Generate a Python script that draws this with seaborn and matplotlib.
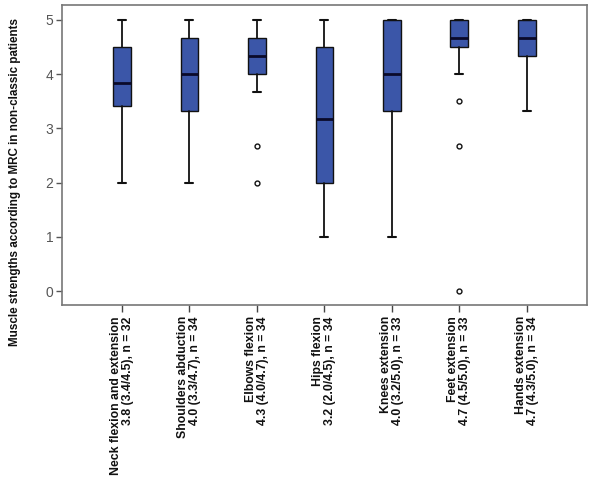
import matplotlib
matplotlib.use("Agg")
import matplotlib.pyplot as plt
import seaborn as sns

# Summary statistics (median, quartiles, whiskers, outliers)
muscles = ["Neck flexion and extension", "Shoulders abduction", "Elbows flexion",
           "Hips flexion", "Knees extension", "Feet extension", "Hands extension"]
summary = ["3.8 (3.4/4.5), n = 32", "4.0 (3.3/4.7), n = 34", "4.3 (4.0/4.7), n = 34",
           "3.2 (2.0/4.5), n = 34", "4.0 (3.2/5.0), n = 33", "4.7 (4.5/5.0), n = 33",
           "4.7 (4.3/5.0), n = 34"]
medians = [3.83, 4.0, 4.33, 3.17, 4.0, 4.67, 4.67]
q1 = [3.42, 3.33, 4.0, 2.0, 3.33, 4.5, 4.33]
q3 = [4.5, 4.67, 4.67, 4.5, 5.0, 5.0, 5.0]
whisk_lo = [2.0, 2.0, 3.67, 1.0, 1.0, 4.0, 3.33]
whisk_hi = [5.0, 5.0, 5.0, 5.0, 5.0, 5.0, 5.0]
outliers = [[], [], [2.67, 2.0], [], [], [3.5, 2.67, 0.0], []]

sns.set_theme(style="white")
plt.rcParams["font.family"] = ["Liberation Sans", "DejaVu Sans"]

fig = plt.figure(figsize=(6.0, 4.82), dpi=100)
ax = fig.add_axes([0.103, 0.367, 0.875, 0.623])

stats = []
for i in range(len(muscles)):
    stats.append({
        "med": medians[i], "q1": q1[i], "q3": q3[i],
        "whislo": whisk_lo[i], "whishi": whisk_hi[i],
        "fliers": outliers[i], "label": muscles[i] + "\n" + summary[i],
    })

ax.bxp(stats, positions=range(len(muscles)), widths=0.26, patch_artist=True,
       boxprops=dict(facecolor="#3b56a8", edgecolor="#111111", linewidth=1.0),
       medianprops=dict(color="#0a0a2a", linewidth=2.0),
       whiskerprops=dict(color="#111111", linewidth=1.3),
       capprops=dict(color="#111111", linewidth=1.5),
       capwidths=0.12,
       flierprops=dict(marker="o", markersize=3.5, markerfacecolor="white",
                       markeredgecolor="#111111", markeredgewidth=1.0))

ax.set_xlim(-0.89, 6.89)
ax.set_ylim(-0.26, 5.28)
ax.set_yticks([0, 1, 2, 3, 4, 5])
ax.set_xticks(range(len(muscles)))
ax.set_xticklabels([m + "\n" + s for m, s in zip(muscles, summary)],
                   rotation=90, fontsize=8.8, fontweight="bold", color="#111111",
                   ha="center", va="top", multialignment="right", linespacing=1.0)
ax.tick_params(axis="y", labelsize=10, colors="#555555", length=4, width=1,
               direction="out", left=True, pad=2)
ax.tick_params(axis="x", length=5, width=1, direction="out", bottom=True,
               color="#444444", pad=3)
for side in ax.spines.values():
    side.set_color("#777777")
    side.set_linewidth(1.2)

# y label sits a bit lower than the axes centre in the reference
fig.text(15 / 600, 1 - 182 / 482,
         "Muscle strengths according to MRC in non-classic patients",
         rotation=90, ha="center", va="center", fontsize=8.4,
         fontweight="bold", color="#111111")

fig.savefig("out.png", dpi=100)
